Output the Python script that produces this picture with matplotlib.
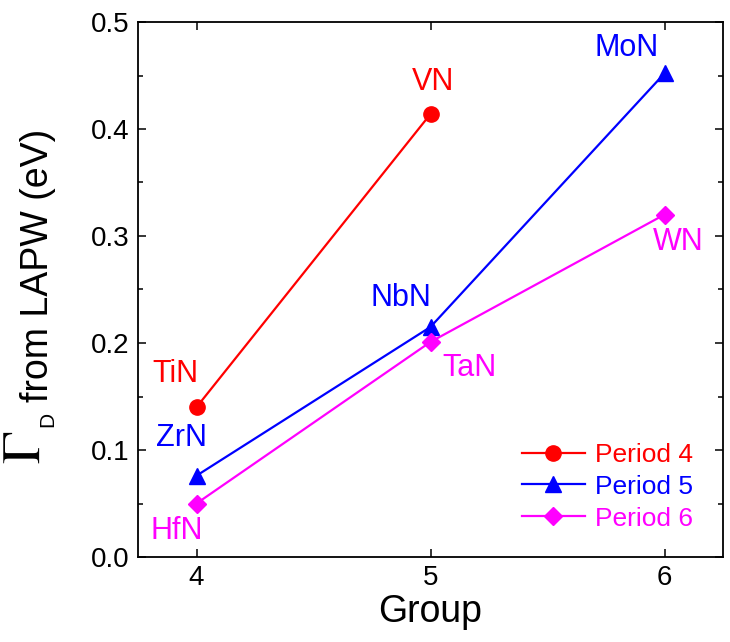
import matplotlib
matplotlib.use("Agg")
import matplotlib.pyplot as plt
from matplotlib.ticker import MultipleLocator

plt.rcParams['font.family'] = ['Liberation Sans', 'DejaVu Sans']
plt.rcParams['mathtext.fontset'] = 'stix'

groups = [4, 5, 6]
period4 = [0.140, 0.414]
period5 = [0.076, 0.215, 0.452]
period6 = [0.050, 0.201, 0.320]

names4 = ["TiN", "VN"]
names5 = ["ZrN", "NbN", "MoN"]
names6 = ["HfN", "TaN", "WN"]

fig = plt.figure(figsize=(7.3, 6.42), dpi=100)
ax = fig.add_axes([138/730, 1 - 557/642, 585/730, 535/642])

ax.plot(groups[:2], period4, color='red', marker='o', markersize=11, lw=1.6, label='Period 4')
ax.plot(groups, period5, color='blue', marker='^', markersize=12, lw=1.6, label='Period 5')
ax.plot(groups, period6, color='magenta', marker='D', markersize=9, lw=1.6, label='Period 6')

# compound names next to each point (offsets in points)
fs = 22
offs4 = [(-15, 24), (2, 23)]
offs5 = [(-11, 27), (-21, 21), (-27, 18)]
offs6 = [(-14, -20), (28, -19), (10, -20)]
for names, vals, offs, c in [(names4, period4, offs4, 'red'),
                             (names5, period5, offs5, 'blue'),
                             (names6, period6, offs6, 'magenta')]:
    for g, v, n, o in zip(groups, vals, names, offs):
        ax.annotate(n, (g, v), xytext=o, textcoords='offset points',
                    ha='center', va='center', color=c, fontsize=fs)

ax.set_xlim(3.75, 6.25)
ax.set_ylim(0, 0.5)
ax.xaxis.set_major_locator(MultipleLocator(1))
ax.yaxis.set_major_locator(MultipleLocator(0.1))
ax.yaxis.set_minor_locator(MultipleLocator(0.05))
ax.yaxis.set_major_formatter(matplotlib.ticker.FormatStrFormatter('%.1f'))
ax.tick_params(which='both', direction='in', top=True, right=True, labelsize=20, width=1.1)
ax.tick_params(which='major', length=6, pad=6)
ax.tick_params(which='minor', length=3.5)
for s in ax.spines.values():
    s.set_linewidth(1.3)

ax.set_xlabel("Group", fontsize=27, labelpad=2)

# y label built from pieces: serif Gamma, sans subscript, plain text
fig.text(26/730, 1 - 447/642, r'$\mathrm{\Gamma}$', fontsize=39, rotation=90,
         ha='center', va='center')
fig.text(48/730, 1 - 419/642, 'D', fontsize=15, rotation=90, ha='center', va='center')
fig.text(38/730, 1 - 265/642, 'from LAPW (eV)', fontsize=27, rotation=90,
         ha='center', va='center')

ax.legend(loc='lower right', bbox_to_anchor=(0.99, 0.005), frameon=False, fontsize=19,
          handlelength=2.4, handletextpad=0.4, labelspacing=0.3,
          labelcolor='linecolor')

fig.savefig("out.png", dpi=100)
